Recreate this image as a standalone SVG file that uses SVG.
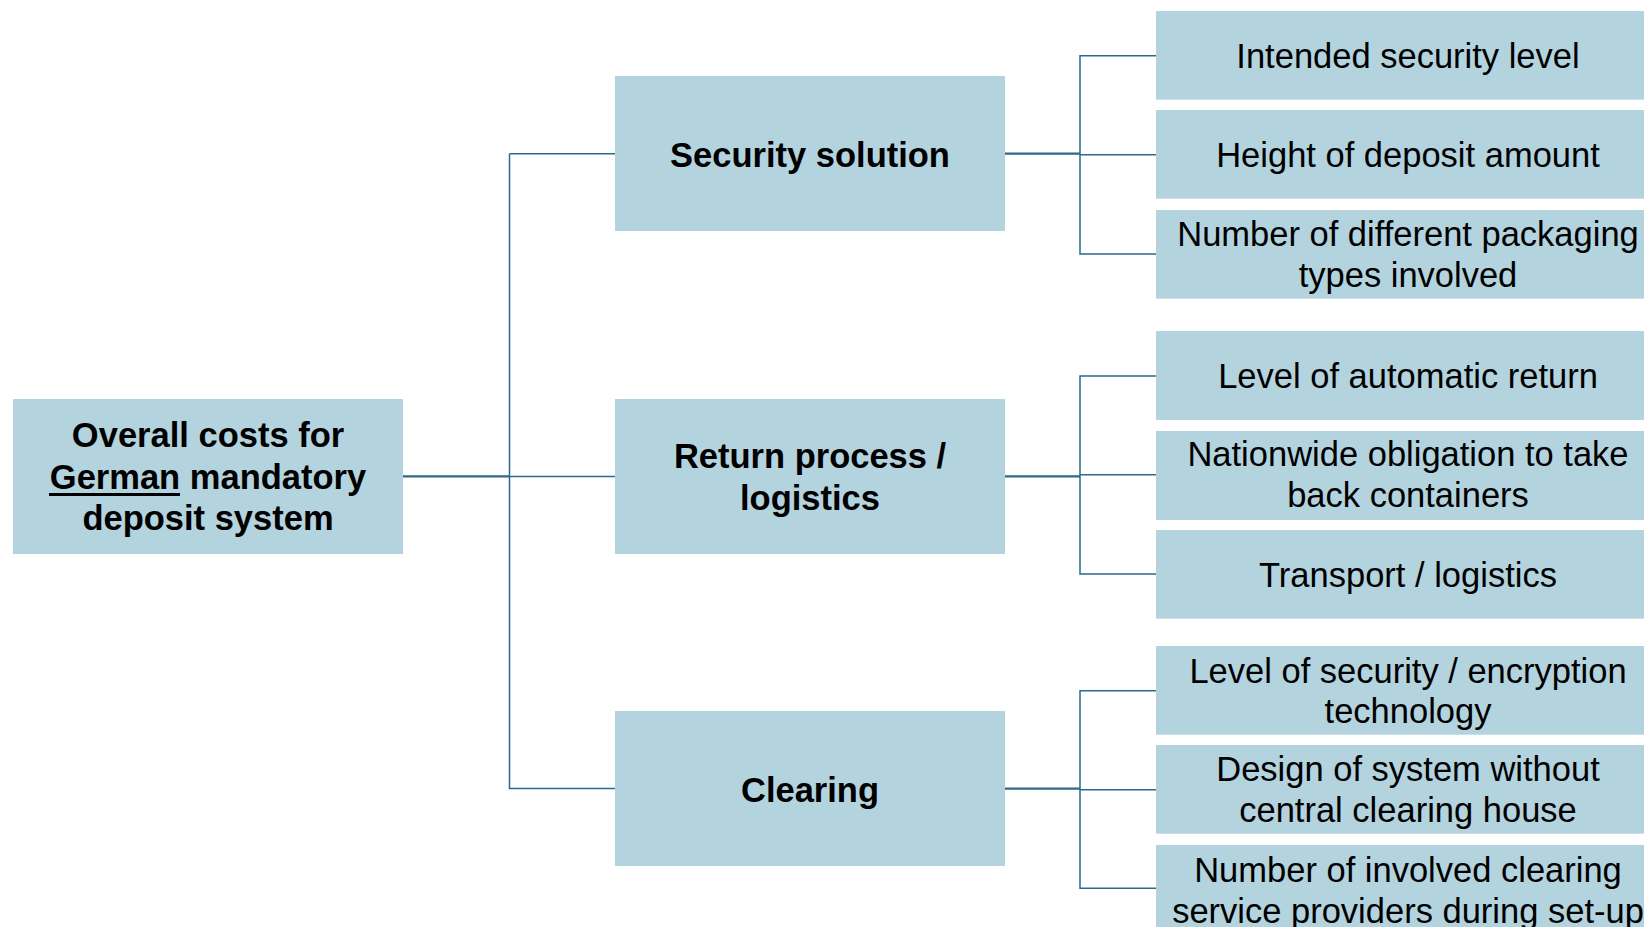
<svg xmlns="http://www.w3.org/2000/svg" width="1644" height="927" viewBox="0 0 1644 927">
  <style>
    .box { fill: #B3D3DE; }
    .lbl { font-family: "Liberation Sans", Arial, sans-serif; font-size: 34.5px; fill: #000; text-anchor: middle; }
    .bold { font-weight: bold; }
    .wire { fill: none; stroke: #2C6A8A; stroke-width: 1.5; }
    .main { stroke-width: 2.2; }
  </style>
  <rect width="1644" height="927" fill="#FFFFFF"/>

  <!-- connectors -->
  <g id="connectors">
    <!-- root to trunk -->
    <line class="wire main" x1="403" y1="476.3" x2="509.5" y2="476.3"/>
    <line class="wire" x1="509.5" y1="153.7" x2="509.5" y2="788.6"/>
    <line class="wire" x1="509.5" y1="153.7" x2="615" y2="153.7"/>
    <line class="wire" x1="509.5" y1="476.5" x2="615" y2="476.5"/>
    <line class="wire" x1="508.8" y1="788.6" x2="615" y2="788.6"/>

    <!-- security solution branches -->
    <line class="wire main" x1="1005" y1="153.7" x2="1080" y2="153.7"/>
    <polyline class="wire" points="1156,55.7 1080,55.7 1080,254 1156,254"/>
    <line class="wire" x1="1080" y1="154.7" x2="1156" y2="154.7"/>

    <!-- return process branches -->
    <line class="wire main" x1="1005" y1="476.3" x2="1080" y2="476.3"/>
    <polyline class="wire" points="1156,376 1080,376 1080,574 1156,574"/>
    <line class="wire" x1="1080" y1="474.7" x2="1156" y2="474.7"/>

    <!-- clearing branches -->
    <line class="wire main" x1="1005" y1="788.7" x2="1080" y2="788.7"/>
    <polyline class="wire" points="1156,690.7 1080,690.7 1080,888.3 1156,888.3"/>
    <line class="wire" x1="1080" y1="789.7" x2="1156" y2="789.7"/>
  </g>

  <!-- root -->
  <g id="node-overall-costs">
    <rect class="box" x="13" y="399" width="390" height="155"/>
    <text class="lbl bold" x="208" y="447">Overall costs for</text>
    <text class="lbl bold" x="208" y="488.5">German mandatory</text>
    <line x1="49" y1="494.5" x2="180" y2="494.5" stroke="#000" stroke-width="3"/>
    <text class="lbl bold" x="208" y="530">deposit system</text>
  </g>

  <!-- second level -->
  <g id="node-security-solution">
    <rect class="box" x="615" y="76" width="390" height="155"/>
    <text class="lbl bold" x="810" y="166.5">Security solution</text>
  </g>
  <g id="node-return-process">
    <rect class="box" x="615" y="399" width="390" height="155"/>
    <text class="lbl bold" x="810" y="468">Return process /</text>
    <text class="lbl bold" x="810" y="509.5">logistics</text>
  </g>
  <g id="node-clearing">
    <rect class="box" x="615" y="711" width="390" height="155"/>
    <text class="lbl bold" x="810" y="801.5">Clearing</text>
  </g>

  <!-- third level: security solution -->
  <g id="node-intended-security-level">
    <rect class="box" x="1156" y="11" width="504" height="88.7"/>
    <text class="lbl" x="1408" y="67.8">Intended security level</text>
  </g>
  <g id="node-height-deposit">
    <rect class="box" x="1156" y="110" width="504" height="88.7"/>
    <text class="lbl" x="1408" y="166.8">Height of deposit amount</text>
  </g>
  <g id="node-packaging-types">
    <rect class="box" x="1156" y="210" width="504" height="88.7"/>
    <text class="lbl" x="1408" y="245.8">Number of different packaging</text>
    <text class="lbl" x="1408" y="286.8">types involved</text>
  </g>

  <!-- third level: return process -->
  <g id="node-automatic-return">
    <rect class="box" x="1156" y="331" width="504" height="89"/>
    <text class="lbl" x="1408" y="388">Level of automatic return</text>
  </g>
  <g id="node-take-back">
    <rect class="box" x="1156" y="431" width="504" height="89"/>
    <text class="lbl" x="1408" y="466">Nationwide obligation to take</text>
    <text class="lbl" x="1408" y="507">back containers</text>
  </g>
  <g id="node-transport">
    <rect class="box" x="1156" y="530" width="504" height="88.7"/>
    <text class="lbl" x="1408" y="587">Transport / logistics</text>
  </g>

  <!-- third level: clearing -->
  <g id="node-encryption">
    <rect class="box" x="1156" y="646" width="504" height="88.7"/>
    <text class="lbl" x="1408" y="682.5">Level of security / encryption</text>
    <text class="lbl" x="1408" y="723">technology</text>
  </g>
  <g id="node-no-central-clearing">
    <rect class="box" x="1156" y="745" width="504" height="88.7"/>
    <text class="lbl" x="1408" y="781">Design of system without</text>
    <text class="lbl" x="1408" y="822">central clearing house</text>
  </g>
  <g id="node-clearing-providers">
    <rect class="box" x="1156" y="845" width="504" height="88.7"/>
    <text class="lbl" x="1408" y="882">Number of involved clearing</text>
    <text class="lbl" x="1408" y="923">service providers during set-up</text>
  </g>
</svg>
